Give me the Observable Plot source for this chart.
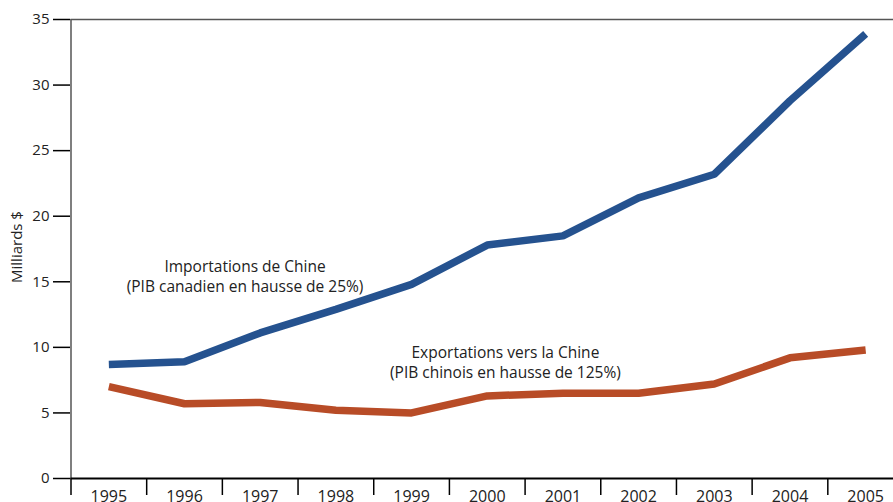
<!DOCTYPE html>
<html><head><meta charset="utf-8">
<script src="https://cdn.jsdelivr.net/npm/d3@7"></script>
<script src="https://cdn.jsdelivr.net/npm/@observablehq/plot@0.6"></script>
<style>body{margin:0;background:#fff;} svg{font-family:"Open Sans",sans-serif;}</style>
</head><body><div id="chart"></div>
<script>
const years = [1995,1996,1997,1998,1999,2000,2001,2002,2003,2004,2005];
const imports = [8.7,8.9,11.1,12.9,14.8,17.8,18.5,21.4,23.2,28.8,33.9];
const exports_ = [7.0,5.7,5.8,5.2,5.0,6.3,6.5,6.5,7.2,9.2,9.8];
const yTicks = [0,5,10,15,20,25,30,35];
const importLabel = ["Importations de Chine","(PIB canadien en hausse de 25%)"];
const exportLabel = ["Exportations vers la Chine","(PIB chinois en hausse de 125%)"];
const yLabel = "Milliards $";

const boundaries = years.map(y => y - 0.5);
const impData = years.map((y,i)=>({year:y, value:imports[i]}));
const expData = years.map((y,i)=>({year:y, value:exports_[i]}));

const chart = Plot.plot({
  width: 893, height: 502,
  marginLeft: 70, marginTop: 19, marginBottom: 24, marginRight: 0,
  style: {fontFamily: "'Open Sans', sans-serif", background: "#fff"},
  x: {domain: [1994.5, 2005.5], range: [70.5, 903]},
  y: {domain: [0, 35]},
  marks: [
    Plot.ruleY([35], {x1: 1994.5, x2: 2005.5, stroke: "#555", strokeWidth: 1.5}),
    Plot.ruleX([1994.5], {y1: 0, y2: 35, stroke: "#555", strokeWidth: 1.5}),
    Plot.axisY({ticks: yTicks, tickSize: 17, tickPadding: 4, fontSize: 15, label: null, stroke: "#000", strokeWidth: 1.5, color: "#222"}),
    Plot.axisX({ticks: boundaries, tickSize: 17, tickFormat: () => "", label: null, strokeWidth: 1.5, stroke: "#000"}),
    Plot.axisX({ticks: years, tickSize: 0, tickPadding: 12, tickFormat: d => String(d), fontSize: 16, label: null, color: "#222"}),
    Plot.ruleY([0], {x1: 1994.5, x2: 2005.5, stroke: "#000", strokeWidth: 2}),
    Plot.line(impData, {x: "year", y: "value", stroke: "#25528f", strokeWidth: 7.5, strokeLinecap: "butt", strokeLinejoin: "miter"}),
    Plot.line(expData, {x: "year", y: "value", stroke: "#b84c27", strokeWidth: 7.5, strokeLinecap: "butt", strokeLinejoin: "miter"}),
    Plot.text([importLabel.join("\n")], {x: 1996.8, y: 15.45, fontSize: 15.5, fill: "#222", lineHeight: 1.25, textAnchor: "middle"}),
    Plot.text([exportLabel.join("\n")], {x: 2000.24, y: 8.9, fontSize: 15.5, fill: "#222", lineHeight: 1.25, textAnchor: "middle"}),
    Plot.text([yLabel], {frameAnchor: "left", dx: -53, dy: -2, rotate: -90, fontSize: 15, fill: "#222", textAnchor: "middle"})
  ]
});
document.getElementById("chart").appendChild(chart);
</script></body></html>
